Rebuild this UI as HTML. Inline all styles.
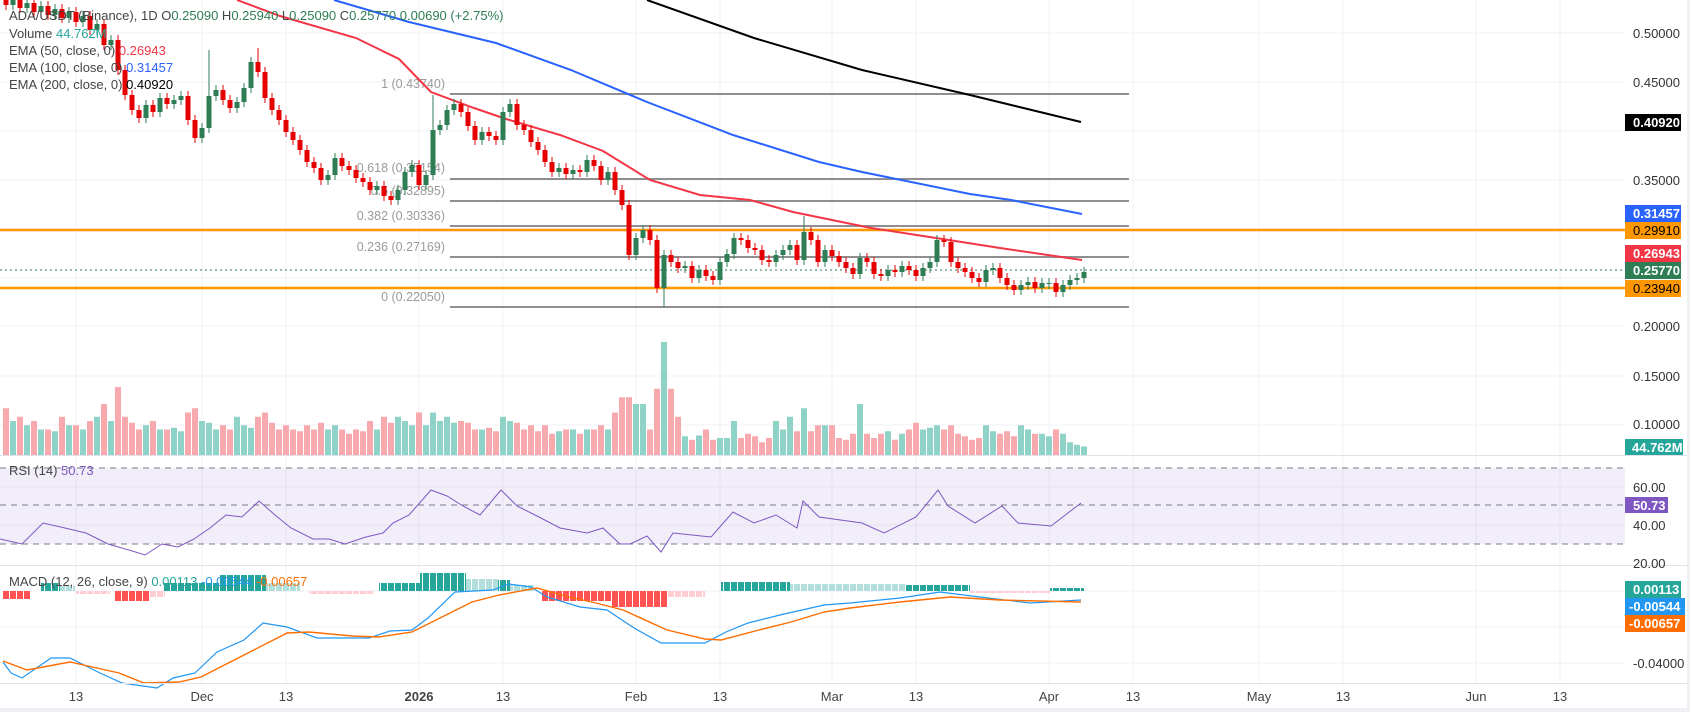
<!DOCTYPE html>
<html><head><meta charset="utf-8"><style>
html,body{margin:0;padding:0;background:#fff;}
svg{display:block;font-family:"Liberation Sans",sans-serif;}
</style></head><body>
<svg width="1690" height="712" viewBox="0 0 1690 712" xmlns="http://www.w3.org/2000/svg">
<defs>
<pattern id="pr" patternUnits="userSpaceOnUse" x="3" y="0" width="7" height="10"><rect width="6" height="10" fill="#ff5252"/></pattern>
<pattern id="pp" patternUnits="userSpaceOnUse" x="3" y="0" width="7" height="10"><rect width="6" height="10" fill="#ffcdd2"/></pattern>
<pattern id="pt" patternUnits="userSpaceOnUse" x="3" y="0" width="7" height="10"><rect width="6" height="10" fill="#26a69a"/></pattern>
<pattern id="pl" patternUnits="userSpaceOnUse" x="3" y="0" width="7" height="10"><rect width="6" height="10" fill="#b2dfdb"/></pattern>
</defs>
<rect x="0" y="0" width="1690" height="712" fill="#fff"/>
<g stroke="#f0f1f4" stroke-width="1">
<path d="M76 0V683M202 0V683M286 0V683M419 0V683M503 0V683M636 0V683M720 0V683M832 0V683M916 0V683M1049 0V683M1133 0V683M1259 0V683M1343 0V683M1476 0V683M1560 0V683"/>
<path d="M0 33H1625M0 82H1625M0 131H1625M0 180H1625M0 229H1625M0 278H1625M0 326H1625M0 376H1625M0 425H1625M0 487H1625M0 525H1625M0 591H1625M0 627H1625M0 663H1625"/>
</g>
<rect x="0" y="468" width="1625" height="76" fill="#7e57c2" fill-opacity="0.1"/>
<g stroke="#787b86" stroke-width="1" stroke-dasharray="6,5">
<line x1="0" y1="468" x2="1625" y2="468"/><line x1="0" y1="505" x2="1625" y2="505"/><line x1="0" y1="544" x2="1625" y2="544"/>
</g>
<!-- volume -->
<g transform="translate(0,455) scale(1,0.85) translate(0,-455)">
<path fill="#f7a9ae" d="M3 455v-55h6v55zM17 455v-45h6v45zM31 455v-40h6v40zM45 455v-30h6v30zM59 455v-45h6v45zM73 455v-35h6v35zM87 455v-40h6v40zM101 455v-60h6v60zM115 455v-80h6v80zM122 455v-45h6v45zM129 455v-38h6v38zM136 455v-30h6v30zM150 455v-40h6v40zM164 455v-30h6v30zM185 455v-50h6v50zM192 455v-55h6v55zM220 455v-35h6v35zM227 455v-30h6v30zM255 455v-45h6v45zM262 455v-50h6v50zM269 455v-38h6v38zM276 455v-30h6v30zM283 455v-35h6v35zM290 455v-30h6v30zM297 455v-28h6v28zM304 455v-35h6v35zM311 455v-30h6v30zM318 455v-38h6v38zM339 455v-30h6v30zM346 455v-25h6v25zM353 455v-30h6v30zM360 455v-28h6v28zM367 455v-40h6v40zM381 455v-45h6v45zM388 455v-38h6v38zM416 455v-50h6v50zM458 455v-40h6v40zM465 455v-38h6v38zM472 455v-30h6v30zM486 455v-32h6v32zM493 455v-28h6v28zM514 455v-38h6v38zM521 455v-30h6v30zM528 455v-35h6v35zM535 455v-28h6v28zM542 455v-35h6v35zM549 455v-25h6v25zM563 455v-30h6v30zM577 455v-25h6v25zM591 455v-30h6v30zM598 455v-35h6v35zM612 455v-50h6v50zM619 455v-68h6v68zM626 455v-68h6v68zM647 455v-30h6v30zM654 455v-78h6v78zM668 455v-78h6v78zM675 455v-45h6v45zM689 455v-18h6v18zM703 455v-30h6v30zM710 455v-18h6v18zM738 455v-20h6v20zM745 455v-25h6v25zM752 455v-22h6v22zM759 455v-15h6v15zM766 455v-20h6v20zM794 455v-28h6v28zM808 455v-28h6v28zM815 455v-35h6v35zM829 455v-35h6v35zM836 455v-20h6v20zM843 455v-18h6v18zM850 455v-25h6v25zM864 455v-25h6v25zM871 455v-20h6v20zM878 455v-25h6v25zM892 455v-18h6v18zM906 455v-30h6v30zM913 455v-38h6v38zM941 455v-30h6v30zM948 455v-35h6v35zM955 455v-25h6v25zM962 455v-22h6v22zM969 455v-18h6v18zM976 455v-20h6v20zM997 455v-25h6v25zM1004 455v-28h6v28zM1011 455v-22h6v22zM1032 455v-25h6v25zM1053 455v-30h6v30z"/>
<path fill="#8fd3c8" d="M10 455v-40h6v40zM24 455v-35h6v35zM38 455v-30h6v30zM52 455v-28h6v28zM66 455v-35h6v35zM80 455v-30h6v30zM94 455v-45h6v45zM108 455v-40h6v40zM143 455v-35h6v35zM157 455v-30h6v30zM171 455v-32h6v32zM178 455v-28h6v28zM199 455v-40h6v40zM206 455v-38h6v38zM213 455v-30h6v30zM234 455v-45h6v45zM241 455v-35h6v35zM248 455v-32h6v32zM325 455v-30h6v30zM332 455v-35h6v35zM374 455v-30h6v30zM395 455v-45h6v45zM402 455v-40h6v40zM409 455v-35h6v35zM423 455v-35h6v35zM430 455v-50h6v50zM437 455v-40h6v40zM444 455v-45h6v45zM451 455v-38h6v38zM479 455v-30h6v30zM500 455v-45h6v45zM507 455v-40h6v40zM556 455v-28h6v28zM570 455v-30h6v30zM584 455v-30h6v30zM605 455v-30h6v30zM633 455v-60h6v60zM640 455v-60h6v60zM661 455v-133h6v133zM682 455v-22h6v22zM696 455v-23h6v23zM717 455v-20h6v20zM724 455v-20h6v20zM731 455v-40h6v40zM773 455v-40h6v40zM780 455v-30h6v30zM787 455v-45h6v45zM801 455v-55h6v55zM822 455v-35h6v35zM857 455v-60h6v60zM885 455v-28h6v28zM899 455v-25h6v25zM920 455v-30h6v30zM927 455v-32h6v32zM934 455v-35h6v35zM983 455v-35h6v35zM990 455v-28h6v28zM1018 455v-35h6v35zM1025 455v-30h6v30zM1039 455v-25h6v25zM1046 455v-22h6v22zM1060 455v-25h6v25zM1067 455v-15h6v15zM1074 455v-12h6v12zM1081 455v-10h6v10z"/>
</g>
<!-- fib -->
<g stroke="#8f8f8f" stroke-width="2">
<line x1="450" y1="94" x2="1129" y2="94"/><line x1="450" y1="179" x2="1129" y2="179"/><line x1="450" y1="201" x2="1129" y2="201"/>
<line x1="450" y1="226" x2="1129" y2="226"/><line x1="450" y1="257" x2="1129" y2="257"/><line x1="450" y1="307" x2="1129" y2="307"/>
</g>
<g font-size="12.5" fill="#9a9a9a" text-anchor="end">
<text x="445" y="88">1 (0.43740)</text><text x="445" y="172">0.618 (0.35154)</text><text x="445" y="195">0.5 (0.32895)</text>
<text x="445" y="220">0.382 (0.30336)</text><text x="445" y="251">0.236 (0.27169)</text><text x="445" y="301">0 (0.22050)</text>
</g>
<line x1="0" y1="230" x2="1625" y2="230" stroke="#ff9800" stroke-width="2.5"/>
<line x1="0" y1="288" x2="1625" y2="288" stroke="#ff9800" stroke-width="2.5"/>
<line x1="0" y1="270" x2="1625" y2="270" stroke="#2e7d55" stroke-width="1" stroke-dasharray="2,3"/>
<!-- EMAs -->
<g fill="none" stroke-width="2">
<polyline stroke="#000" points="647,0 754,38 862,70 970,95 1081,122"/>
<polyline stroke="#2962ff" points="334,0 409,22 496,43 571,70 647,102 733,135 819,162 862,172 970,194 1011,200 1082,214"/>
<polyline stroke="#f23645" points="237,0 280,16 356,38 399,59 431,92 474,108 506,119 560,135 603,151 650,180 700,195 750,200 793,212 871,228 936,238 1000,248 1082,260"/>
</g>
<!-- candles -->
<g stroke-width="1" fill="none">
<path stroke="#e60000" d="M6 -5v15M20 -5v18M34 -2v19M48 1v19M62 4v19M76 7v20M90 11v24M104 19v31M118 35v40M125 65v35M132 90v25M139 105v18M153 100v17M167 93v16M188 91v34M195 115v28M223 85v20M230 95v18M258 48v29M265 67v36M272 93v22M279 105v20M286 115v22M293 127v18M300 135v20M307 145v22M314 157v16M321 163v22M342 153v18M349 161v14M356 165v18M363 173v14M370 177v18M384 181v20M391 191v14M419 160v30M461 99v18M468 107v24M475 121v24M489 127v14M496 131v14M517 99v31M524 120v15M531 125v22M538 137v18M545 145v22M552 157v20M566 163v16M580 165v12M594 155v16M601 161v24M615 167v28M622 185v25M629 200v60M650 225v20M657 235v58M671 250v17M678 257v16M692 261v22M706 265v16M713 271v14M741 233v12M748 235v18M755 243v12M762 245v20M769 255v12M797 240v25M811 227v18M818 235v32M832 245v16M839 251v16M846 257v16M853 263v16M867 253v14M874 257v22M881 269v12M895 265v12M909 261v14M916 265v16M944 235v12M951 237v30M958 257v16M965 263v14M972 267v16M979 273v14M1000 263v20M1007 273v17M1014 280v15M1035 277v16M1056 278v19"/>
<path stroke="#2e7d55" d="M13 -5v15M27 -2v15M41 1v16M55 4v16M69 7v16M83 11v16M97 19v16M111 35v15M146 100v23M160 93v24M174 95v14M181 91v14M202 123v20M209 50v83M216 85v16M237 97v16M244 83v24M251 57v36M328 170v15M335 153v27M377 181v14M398 185v20M405 167v28M412 160v17M426 170v20M433 95v85M440 120v15M447 105v25M454 99v16M482 127v18M503 107v38M510 99v18M559 163v14M573 165v14M587 155v22M608 167v18M636 233v27M643 225v18M664 250v57M685 261v12M699 265v18M720 257v28M727 249v18M734 233v26M776 250v17M783 245v15M790 240v15M804 216v49M825 245v22M860 253v26M888 265v16M902 261v16M923 263v18M930 257v16M937 235v32M986 265v22M993 263v12M1021 280v15M1028 277v13M1042 278v15M1049 278v11M1063 280v17M1070 275v15M1077 273v12M1084 267v16"/>
</g>
<path fill="#e60000" d="M3.5 0h5v5h-5zM17.5 0h5v8h-5zM31.5 3h5v9h-5zM45.5 6h5v9h-5zM59.5 9h5v9h-5zM73.5 12h5v10h-5zM87.5 16h5v14h-5zM101.5 24h5v21h-5zM115.5 40h5v30h-5zM122.5 70h5v25h-5zM129.5 95h5v15h-5zM136.5 110h5v8h-5zM150.5 105h5v7h-5zM164.5 98h5v6h-5zM185.5 96h5v24h-5zM192.5 120h5v18h-5zM220.5 90h5v10h-5zM227.5 100h5v8h-5zM255.5 62h5v10h-5zM262.5 72h5v26h-5zM269.5 98h5v12h-5zM276.5 110h5v10h-5zM283.5 120h5v12h-5zM290.5 132h5v8h-5zM297.5 140h5v10h-5zM304.5 150h5v12h-5zM311.5 162h5v6h-5zM318.5 168h5v12h-5zM339.5 158h5v8h-5zM346.5 166h5v4h-5zM353.5 170h5v8h-5zM360.5 178h5v4h-5zM367.5 182h5v8h-5zM381.5 186h5v10h-5zM388.5 196h5v4h-5zM416.5 165h5v20h-5zM458.5 104h5v8h-5zM465.5 112h5v14h-5zM472.5 126h5v14h-5zM486.5 132h5v4h-5zM493.5 136h5v4h-5zM514.5 104h5v21h-5zM521.5 125h5v5h-5zM528.5 130h5v12h-5zM535.5 142h5v8h-5zM542.5 150h5v12h-5zM549.5 162h5v10h-5zM563.5 168h5v6h-5zM577.5 170h5v2h-5zM591.5 160h5v6h-5zM598.5 166h5v14h-5zM612.5 172h5v18h-5zM619.5 190h5v15h-5zM626.5 205h5v50h-5zM647.5 230h5v10h-5zM654.5 240h5v48h-5zM668.5 255h5v7h-5zM675.5 262h5v6h-5zM689.5 266h5v12h-5zM703.5 270h5v6h-5zM710.5 276h5v4h-5zM738.5 238h5v2h-5zM745.5 240h5v8h-5zM752.5 248h5v2h-5zM759.5 250h5v10h-5zM766.5 260h5v2h-5zM794.5 245h5v15h-5zM808.5 232h5v8h-5zM815.5 240h5v22h-5zM829.5 250h5v6h-5zM836.5 256h5v6h-5zM843.5 262h5v6h-5zM850.5 268h5v6h-5zM864.5 258h5v4h-5zM871.5 262h5v12h-5zM878.5 274h5v2h-5zM892.5 270h5v2h-5zM906.5 266h5v4h-5zM913.5 270h5v6h-5zM941.5 240h5v2h-5zM948.5 242h5v20h-5zM955.5 262h5v6h-5zM962.5 268h5v4h-5zM969.5 272h5v6h-5zM976.5 278h5v4h-5zM997.5 268h5v10h-5zM1004.5 278h5v7h-5zM1011.5 285h5v5h-5zM1032.5 282h5v6h-5zM1053.5 283h5v9h-5z"/>
<path fill="#2e7d55" d="M10.5 0h5v5h-5zM24.5 3h5v5h-5zM38.5 6h5v6h-5zM52.5 9h5v6h-5zM66.5 12h5v6h-5zM80.5 16h5v6h-5zM94.5 24h5v6h-5zM108.5 40h5v5h-5zM143.5 105h5v13h-5zM157.5 98h5v14h-5zM171.5 100h5v4h-5zM178.5 96h5v4h-5zM199.5 128h5v10h-5zM206.5 96h5v32h-5zM213.5 90h5v6h-5zM234.5 102h5v6h-5zM241.5 88h5v14h-5zM248.5 62h5v26h-5zM325.5 175h5v5h-5zM332.5 158h5v17h-5zM374.5 186h5v4h-5zM395.5 190h5v10h-5zM402.5 172h5v18h-5zM409.5 165h5v7h-5zM423.5 175h5v10h-5zM430.5 130h5v45h-5zM437.5 125h5v5h-5zM444.5 110h5v15h-5zM451.5 104h5v6h-5zM479.5 132h5v8h-5zM500.5 112h5v28h-5zM507.5 104h5v8h-5zM556.5 168h5v4h-5zM570.5 170h5v4h-5zM584.5 160h5v12h-5zM605.5 172h5v8h-5zM633.5 238h5v17h-5zM640.5 230h5v8h-5zM661.5 255h5v33h-5zM682.5 266h5v2h-5zM696.5 270h5v8h-5zM717.5 262h5v18h-5zM724.5 254h5v8h-5zM731.5 238h5v16h-5zM773.5 255h5v7h-5zM780.5 250h5v5h-5zM787.5 245h5v5h-5zM801.5 232h5v28h-5zM822.5 250h5v12h-5zM857.5 258h5v16h-5zM885.5 270h5v6h-5zM899.5 266h5v6h-5zM920.5 268h5v8h-5zM927.5 262h5v6h-5zM934.5 240h5v22h-5zM983.5 270h5v12h-5zM990.5 268h5v2h-5zM1018.5 285h5v5h-5zM1025.5 282h5v3h-5zM1039.5 283h5v5h-5zM1046.5 283h5v1h-5zM1060.5 285h5v7h-5zM1067.5 280h5v5h-5zM1074.5 278h5v2h-5zM1081.5 272h5v6h-5z"/>
<!-- RSI -->
<polyline fill="none" stroke="#7e57c2" stroke-width="1" points="0,539 22,544 43,523 65,528 86,533 108,544 129,550 145,555 162,544 178,547 194,539 210,528 226,515 242,517 259,501 275,515 291,528 313,539 329,539 345,544 366,537 383,533 393,523 409,515 431,490 447,496 463,506 480,515 501,490 517,506 539,517 560,528 587,533 603,528 620,544 630,544 647,536 661,552 673,533 711,537 733,512 754,523 776,515 797,528 803,501 819,517 862,523 884,533 916,517 938,490 948,506 975,523 1002,506 1018,523 1051,526 1081,503"/>
<!-- MACD histogram -->
<path fill="url(#pr)" d="M3 591h27v8h-27zM115 591h35v10h-35zM542 591h70v10h-70zM612 591h55v16h-55z"/>
<path fill="url(#pp)" d="M76 591h34v3h-34zM150 591h15v6h-15zM309 591h65v3h-65zM667 591h38v6h-38zM970 591h80v2h-80z"/>
<path fill="url(#pt)" d="M41 583h19v8h-19zM163 583h57v8h-57zM220 575h46v16h-46zM379 583h41v8h-41zM420 573h46v18h-46zM498 580h12v11h-12zM721 582h69v9h-69zM905 585h65v6h-65zM1050 588h34v3h-34z"/>
<path fill="url(#pl)" d="M60 586h15v5h-15zM266 583h34v8h-34zM466 579h32v12h-32zM510 585h25v6h-25zM790 584h115v7h-115z"/>
<polyline fill="none" stroke="#2196f3" stroke-width="1.2" points="3,662 11,673 22,678 51,658 70,658 100,673 122,683 157,688 173,678 195,673 217,652 244,640 263,623 287,627 317,638 369,638 390,631 412,630 428,618 455,592 493,590 509,584 531,587 547,597 580,607 607,610 634,628 661,643 705,643 726,632 748,623 780,615 802,610 824,605 850,603 900,598 940,592 980,597 1030,603 1081,600"/>
<polyline fill="none" stroke="#ff6d00" stroke-width="1.4" points="3,661 27,670 70,662 119,673 144,683 179,682 201,677 244,655 287,633 309,632 352,636 379,637 412,632 450,613 472,602 499,595 537,588 569,597 596,603 623,610 667,630 705,639 721,640 759,630 791,622 824,612 850,608 900,602 950,597 1000,600 1081,602"/>
<!-- separators -->
<line x1="0" y1="455.5" x2="1690" y2="455.5" stroke="#e0e3eb"/>
<line x1="0" y1="565.5" x2="1690" y2="565.5" stroke="#e0e3eb"/>
<line x1="0" y1="683.5" x2="1690" y2="683.5" stroke="#e0e3eb"/>
<rect x="1687" y="0" width="3" height="712" fill="#eef0f4"/>
<rect x="0" y="708" width="1690" height="4" fill="#eef0f4"/>
<!-- legend -->
<g font-size="13" fill="#444">
<text x="9" y="20">ADA/USDT (Binance), 1D  O<tspan fill="#2e7d55">0.25090</tspan>  H<tspan fill="#2e7d55">0.25940</tspan>  L<tspan fill="#2e7d55">0.25090</tspan>  C<tspan fill="#2e7d55">0.25770</tspan>  <tspan fill="#2e7d55">0.00690 (+2.75%)</tspan></text>
<text x="9" y="38">Volume  <tspan fill="#26a69a">44.762M</tspan></text>
<text x="9" y="55">EMA (50, close, 0)  <tspan fill="#f23645">0.26943</tspan></text>
<text x="9" y="72">EMA (100, close, 0)  <tspan fill="#2962ff">0.31457</tspan></text>
<text x="9" y="89">EMA (200, close, 0)  <tspan fill="#000">0.40920</tspan></text>
<text x="9" y="475">RSI (14)  <tspan fill="#7e57c2">50.73</tspan></text>
<text x="9" y="586">MACD (12, 26, close, 9)  <tspan fill="#26a69a">0.00113</tspan>  <tspan fill="#2196f3">-0.00544</tspan>  <tspan fill="#ff6d00">-0.00657</tspan></text>
</g>
<!-- price axis -->
<g font-size="13" fill="#333">
<text x="1633" y="38">0.50000</text><text x="1633" y="87">0.45000</text><text x="1633" y="185">0.35000</text>
<text x="1633" y="331">0.20000</text><text x="1633" y="381">0.15000</text><text x="1633" y="429">0.10000</text>
<text x="1633" y="492">60.00</text><text x="1633" y="530">40.00</text><text x="1633" y="568">20.00</text>
<text x="1633" y="668">-0.04000</text>
</g>
<g font-size="13" font-weight="bold" fill="#fff">
<rect x="1625" y="114" width="56" height="17" fill="#000"/><text x="1633" y="127">0.40920</text>
<rect x="1625" y="205" width="56" height="17" fill="#2962ff"/><text x="1633" y="218">0.31457</text>
<rect x="1625" y="222" width="56" height="17" fill="#ff9800"/><text x="1633" y="235" fill="#000" font-weight="normal">0.29910</text>
<rect x="1625" y="245" width="56" height="17" fill="#f23645"/><text x="1633" y="258">0.26943</text>
<rect x="1625" y="262" width="56" height="17" fill="#2e7d55"/><text x="1633" y="275">0.25770</text>
<rect x="1625" y="280" width="56" height="17" fill="#ff9800"/><text x="1633" y="293" fill="#000" font-weight="normal">0.23940</text>
<rect x="1625" y="439" width="58" height="16" fill="#26a69a"/><text x="1632" y="452">44.762M</text>
<rect x="1625" y="497" width="43" height="16" fill="#7e57c2"/><text x="1633" y="510">50.73</text>
<rect x="1625" y="581" width="56" height="17" fill="#26a69a"/><text x="1633" y="594">0.00113</text>
<rect x="1625" y="598" width="60" height="17" fill="#2196f3"/><text x="1629" y="611">-0.00544</text>
<rect x="1625" y="615" width="60" height="17" fill="#ff6d00"/><text x="1629" y="628">-0.00657</text>
</g>
<!-- time axis -->
<g font-size="13" fill="#444" text-anchor="middle">
<text x="76" y="701">13</text><text x="202" y="701">Dec</text><text x="286" y="701">13</text>
<text x="419" y="701" font-weight="bold">2026</text><text x="503" y="701">13</text><text x="636" y="701">Feb</text>
<text x="720" y="701">13</text><text x="832" y="701">Mar</text><text x="916" y="701">13</text>
<text x="1049" y="701">Apr</text><text x="1133" y="701">13</text><text x="1259" y="701">May</text>
<text x="1343" y="701">13</text><text x="1476" y="701">Jun</text><text x="1560" y="701">13</text>
</g>
</svg>
</body></html>
